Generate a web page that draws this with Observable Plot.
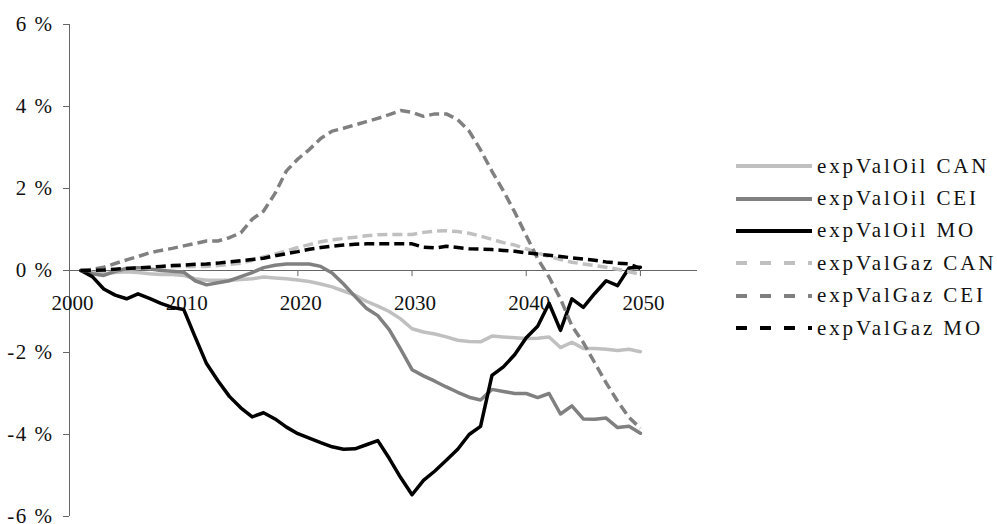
<!DOCTYPE html>
<html><head><meta charset="utf-8">
<script src="https://cdn.jsdelivr.net/npm/d3@7"></script>
<script src="https://cdn.jsdelivr.net/npm/@observablehq/plot@0.6"></script>
<style>
body{margin:0;background:#fff;}
#wrap{position:relative;width:997px;height:524px;font-family:"Liberation Serif",serif;}
#legend{position:absolute;left:736px;top:150px;}
.row{display:flex;align-items:center;height:32.4px;}
.row span{font-size:21px;letter-spacing:2.9px;margin-left:5px;color:#111;white-space:nowrap;}
g[aria-label="y-axis tick label"] text{letter-spacing:1.5px;}
g[aria-label="x-labels"] text{letter-spacing:6.5px;}
</style></head><body><div id="wrap"><div id="legend"></div></div>
<script>
const years = [2001,2002,2003,2004,2005,2006,2007,2008,2009,2010,
  2011,2012,2013,2014,2015,2016,2017,2018,2019,2020,
  2021,2022,2023,2024,2025,2026,2027,2028,2029,2030,
  2031,2032,2033,2034,2035,2036,2037,2038,2039,2040,
  2041,2042,2043,2044,2045,2046,2047,2048,2049,2050];

const oilCAN = [0,-0.05,-0.08,-0.05,-0.03,-0.05,-0.08,-0.1,-0.1,-0.12,
  -0.2,-0.24,-0.24,-0.24,-0.22,-0.2,-0.16,-0.18,-0.2,-0.23,
  -0.27,-0.33,-0.4,-0.5,-0.6,-0.75,-0.87,-1.0,-1.18,-1.42,
  -1.5,-1.55,-1.62,-1.7,-1.73,-1.74,-1.6,-1.62,-1.64,-1.66,
  -1.65,-1.62,-1.88,-1.75,-1.9,-1.9,-1.92,-1.95,-1.92,-1.98];
const oilCEI = [0,-0.08,-0.12,-0.02,0.05,0.07,0.04,0,-0.02,-0.04,
  -0.25,-0.35,-0.3,-0.25,-0.15,-0.05,0.07,0.13,0.16,0.16,
  0.16,0.1,-0.06,-0.33,-0.63,-0.92,-1.1,-1.44,-1.92,-2.42,
  -2.57,-2.7,-2.84,-2.97,-3.09,-3.16,-2.9,-2.95,-3.0,-3.0,
  -3.1,-3.0,-3.5,-3.3,-3.62,-3.63,-3.6,-3.83,-3.8,-3.97];
const oilMO = [0,-0.15,-0.45,-0.6,-0.69,-0.57,-0.68,-0.8,-0.9,-0.95,
  -1.62,-2.27,-2.69,-3.07,-3.35,-3.57,-3.47,-3.62,-3.82,-3.98,
  -4.09,-4.2,-4.3,-4.36,-4.35,-4.25,-4.15,-4.58,-5.05,-5.47,
  -5.12,-4.89,-4.63,-4.36,-4.0,-3.8,-2.56,-2.35,-2.05,-1.64,
  -1.36,-0.8,-1.46,-0.69,-0.9,-0.56,-0.25,-0.37,0.06,0.08];
const gazCAN = [0,0,0,0.02,0.04,0.05,0.06,0.08,0.1,0.1,
  0.1,0.1,0.12,0.15,0.18,0.25,0.33,0.4,0.48,0.56,
  0.63,0.7,0.75,0.78,0.81,0.85,0.87,0.88,0.88,0.88,
  0.93,0.96,0.97,0.95,0.91,0.84,0.76,0.68,0.62,0.53,
  0.43,0.34,0.27,0.2,0.16,0.12,0.08,0.03,-0.03,-0.09];
const gazCEI = [0,0.03,0.08,0.17,0.26,0.34,0.43,0.49,0.54,0.6,
  0.66,0.72,0.72,0.8,0.92,1.25,1.45,1.88,2.43,2.72,
  2.95,3.22,3.4,3.47,3.55,3.63,3.71,3.8,3.9,3.86,
  3.76,3.82,3.82,3.68,3.4,2.94,2.42,1.94,1.42,0.85,
  0.29,-0.16,-0.69,-1.35,-1.76,-2.25,-2.74,-3.19,-3.58,-3.85];
const gazMO = [0,0,0.01,0.03,0.05,0.06,0.08,0.1,0.12,0.13,
  0.15,0.16,0.18,0.21,0.24,0.27,0.3,0.36,0.41,0.46,
  0.52,0.56,0.59,0.62,0.64,0.65,0.65,0.65,0.65,0.65,
  0.57,0.55,0.59,0.56,0.53,0.52,0.51,0.49,0.47,0.43,
  0.4,0.37,0.34,0.31,0.28,0.25,0.21,0.18,0.16,0.05];

const seriesNames = ["expValOil CAN","expValOil CEI","expValOil MO","expValGaz CAN","expValGaz CEI","expValGaz MO"];
const seriesValues = [oilCAN, oilCEI, oilMO, gazCAN, gazCEI, gazMO];
const seriesColors = ["#c0c0c0","#808080","#000000","#c0c0c0","#808080","#000000"];
const seriesDashed = [false,false,false,true,true,true];

const yTicks = [-6,-4,-2,0,2,4,6];
const xTickYears = [2010,2020,2030,2040,2050];
const xLabelYears = [2000,2010,2020,2030,2040,2050];

const series = seriesNames.map((name,k) => ({
  name, color: seriesColors[k], dashed: seriesDashed[k],
  rows: seriesValues[k].map((v,i) => ({year: years[i], value: v}))
}));

const chart = Plot.plot({
  width: 997, height: 524,
  marginLeft: 69, marginRight: 300, marginTop: 24, marginBottom: 8,
  x: {domain: [2000, 2055], axis: null},
  y: {domain: [-6, 6]},
  style: {fontFamily: "Liberation Serif, serif", fontSize: "21px", background: "white", color: "#111"},
  marks: [
    Plot.axisY({ticks: yTicks, tickSize: 6, tickPadding: 10, tickFormat: d => d + " %", stroke: "#666", label: null, fontSize: 21}),
    Plot.ruleX([2000], {y1: -6, y2: 6, stroke: "#666", strokeWidth: 1}),
    Plot.ruleY([0], {x1: 2000, x2: 2055, stroke: "#666", strokeWidth: 1}),
    Plot.ruleX(xTickYears, {x: d => d, y1: 0, y2: -0.15, stroke: "#666", strokeWidth: 1}),
    Plot.text(xLabelYears, {x: d => d, y: 0, text: d => String(d), dy: 33, dx: 3, fontSize: 21, fill: "#111", ariaLabel: "x-labels"}),
    ...series.map(s => Plot.line(s.rows, {x: "year", y: "value", stroke: s.color, strokeWidth: 3.5,
      strokeDasharray: s.dashed ? "10,5" : null, strokeLinejoin: "round", strokeLinecap: s.dashed ? "butt" : "round"}))
  ]
});
const wrap = document.getElementById("wrap");
wrap.insertBefore(chart, wrap.firstChild);

const legend = document.getElementById("legend");
series.forEach(s => {
  const row = document.createElement("div");
  row.className = "row";
  const dash = s.dashed ? ' stroke-dasharray="11,13"' : '';
  row.innerHTML = `<svg width="76" height="8"><line x1="0" y1="4" x2="76" y2="4" stroke="${s.color}" stroke-width="4"${dash}/></svg><span>${s.name}</span>`;
  legend.appendChild(row);
});
</script>
</body></html>
